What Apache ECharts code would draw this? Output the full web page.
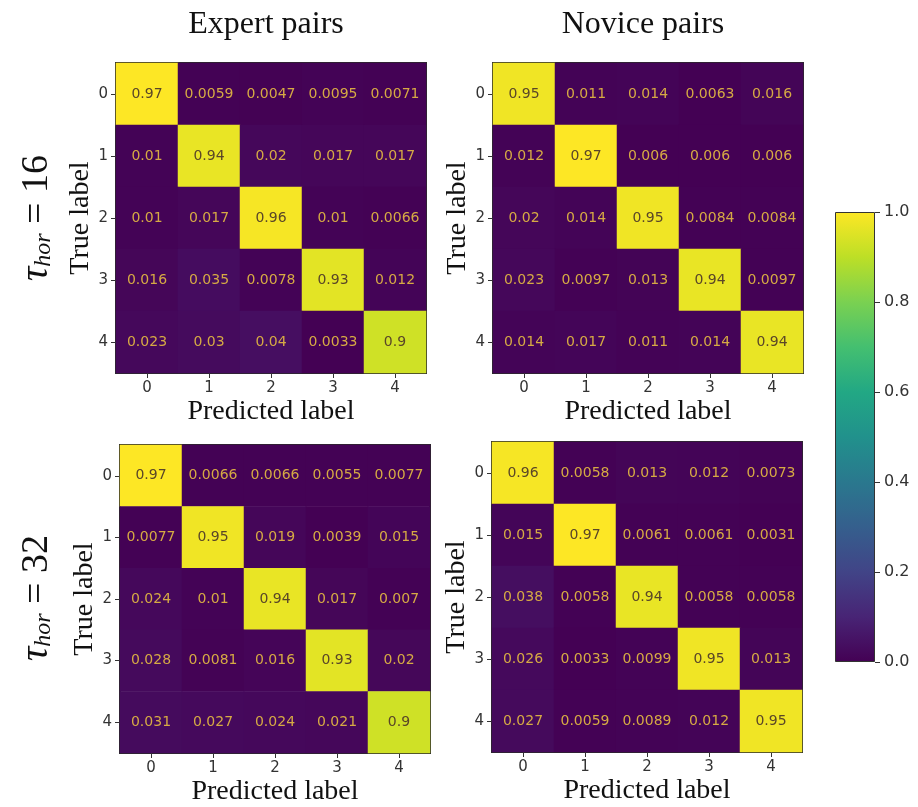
<!DOCTYPE html>
<html>
<head>
<meta charset="utf-8">
<script src="https://cdn.jsdelivr.net/npm/echarts@6/dist/echarts.min.js"></script>
<style>html,body{margin:0;padding:0;background:#fff}#c{width:918px;height:807px}</style>
</head>
<body>
<div id="c"></div>
<script>
const classLabels = ['0', '1', '2', '3', '4'];
const colTitles = ['Expert pairs', 'Novice pairs'];
const rowTaus = ['16', '32'];
const colorbarTicks = [0, 0.2, 0.4, 0.6, 0.8, 1.0];

const expert16 = [
  [0.97, 0.0059, 0.0047, 0.0095, 0.0071],
  [0.01, 0.94, 0.02, 0.017, 0.017],
  [0.01, 0.017, 0.96, 0.01, 0.0066],
  [0.016, 0.035, 0.0078, 0.93, 0.012],
  [0.023, 0.03, 0.04, 0.0033, 0.9]
];
const novice16 = [
  [0.95, 0.011, 0.014, 0.0063, 0.016],
  [0.012, 0.97, 0.006, 0.006, 0.006],
  [0.02, 0.014, 0.95, 0.0084, 0.0084],
  [0.023, 0.0097, 0.013, 0.94, 0.0097],
  [0.014, 0.017, 0.011, 0.014, 0.94]
];
const expert32 = [
  [0.97, 0.0066, 0.0066, 0.0055, 0.0077],
  [0.0077, 0.95, 0.019, 0.0039, 0.015],
  [0.024, 0.01, 0.94, 0.017, 0.007],
  [0.028, 0.0081, 0.016, 0.93, 0.02],
  [0.031, 0.027, 0.024, 0.021, 0.9]
];
const novice32 = [
  [0.96, 0.0058, 0.013, 0.012, 0.0073],
  [0.015, 0.97, 0.0061, 0.0061, 0.0031],
  [0.038, 0.0058, 0.94, 0.0058, 0.0058],
  [0.026, 0.0033, 0.0099, 0.95, 0.013],
  [0.027, 0.0059, 0.0089, 0.012, 0.95]
];

const viridis = ['#440154', '#482475', '#414487', '#355f8d', '#2a788e', '#21918c', '#22a884', '#44bf70', '#7ad151', '#bddf26', '#fde725'];

const matrices = [expert16, novice16, expert32, novice32];
const gridPos = [
  {left: 116, top: 63, width: 310, height: 310},
  {left: 493, top: 63, width: 310, height: 310},
  {left: 120, top: 445, width: 310, height: 310},
  {left: 492, top: 442, width: 310, height: 310}
];

const serif = '"Liberation Serif", "DejaVu Serif", serif';
const sans = '"DejaVu Sans", sans-serif';

const grids = [], xAxes = [], yAxes = [], series = [], visualMaps = [];
matrices.forEach((m, i) => {
  grids.push(Object.assign({show: true, borderColor: '#2a2a2a', borderWidth: 2, backgroundColor: 'transparent'}, gridPos[i]));
  xAxes.push({
    type: 'category', gridIndex: i, data: classLabels,
    name: 'Predicted label', nameLocation: 'middle', nameGap: 25,
    nameTextStyle: {fontFamily: serif, fontSize: 28, color: '#111'},
    axisLine: {show: false},
    axisTick: {show: true, alignWithLabel: true, length: 5, lineStyle: {color: '#333'}},
    axisLabel: {fontFamily: sans, fontSize: 15, color: '#333', margin: 8},
    splitLine: {show: false}
  });
  yAxes.push({
    type: 'category', gridIndex: i, data: classLabels, inverse: true,
    name: 'True label', nameLocation: 'middle', nameGap: 21, nameRotate: 90,
    nameTextStyle: {fontFamily: serif, fontSize: 28, color: '#111'},
    axisLine: {show: false},
    axisTick: {show: true, alignWithLabel: true, length: 5, lineStyle: {color: '#333'}},
    axisLabel: {fontFamily: sans, fontSize: 15, color: '#333', margin: 8},
    splitLine: {show: false}
  });
  const flat = [].concat(...m);
  const mn = Math.min(...flat), mx = Math.max(...flat);
  const data = [];
  m.forEach((row, r) => row.forEach((v, c) => {
    const norm = (v - mn) / (mx - mn);
    data.push({value: [c, r, v], label: {color: norm > 0.5 ? '#5a4628' : '#d6aa44'}});
  }));
  visualMaps.push({type: 'continuous', show: false, seriesIndex: i, dimension: 2, min: mn, max: mx, inRange: {color: viridis}});
  series.push({
    type: 'heatmap', xAxisIndex: i, yAxisIndex: i, data: data,
    label: {show: true, fontFamily: sans, fontSize: 14, formatter: p => String(p.value[2])},
    itemStyle: {borderWidth: 0},
    emphasis: {disabled: true}
  });
});

// colorbar grid
grids.push({left: 835, top: 212, width: 40, height: 450, show: false});
xAxes.push({type: 'category', gridIndex: 4, data: [''], show: false});
yAxes.push({
  type: 'value', gridIndex: 4, min: colorbarTicks[0], max: colorbarTicks[colorbarTicks.length - 1], interval: 0.2,
  position: 'right',
  axisLine: {show: false},
  axisTick: {show: true, length: 5, lineStyle: {color: '#333'}},
  axisLabel: {fontFamily: sans, fontSize: 16, color: '#333', margin: 9, formatter: v => v.toFixed(1)},
  splitLine: {show: false}
});
const stops = viridis.map((c, k) => ({offset: 1 - k / (viridis.length - 1), color: c})).reverse();
series.push({
  type: 'bar', xAxisIndex: 4, yAxisIndex: 4, data: [colorbarTicks[colorbarTicks.length - 1]], barWidth: '100%',
  itemStyle: {color: {type: 'linear', x: 0, y: 0, x2: 0, y2: 1, colorStops: stops}, borderColor: '#333', borderWidth: 1},
  emphasis: {disabled: true}, silent: true
});

const titles = colTitles.map((t, k) => ({
  text: t, left: gridPos[k].left + gridPos[k].width / 2 - 10, top: 4, textAlign: 'center',
  textStyle: {fontFamily: serif, fontSize: 32, fontWeight: 'normal', color: '#111'}
}));

const tauGraphics = rowTaus.map((t, k) => ({
  type: 'text', x: 33, y: k === 0 ? 218 : 598, rotation: Math.PI / 2,
  style: {
    text: '{t|τ}{s|hor}{n| = ' + t + '}',
    align: 'center', verticalAlign: 'middle',
    rich: {
      t: {fontFamily: serif, fontSize: 40, fontStyle: 'italic', fill: '#111', lineHeight: 46, verticalAlign: 'bottom'},
      s: {fontFamily: serif, fontSize: 24, fontStyle: 'italic', fill: '#111', lineHeight: 46, verticalAlign: 'bottom', padding: [16, 0, 0, 0]},
      n: {fontFamily: serif, fontSize: 38, fill: '#111', lineHeight: 46, verticalAlign: 'bottom'}
    }
  }
}));

const chart = echarts.init(document.getElementById('c'), null, {renderer: 'canvas'});
chart.setOption({
  animation: false,
  backgroundColor: '#fff',
  title: titles,
  grid: grids,
  xAxis: xAxes,
  yAxis: yAxes,
  visualMap: visualMaps,
  series: series,
  graphic: tauGraphics
});
</script>
</body>
</html>
